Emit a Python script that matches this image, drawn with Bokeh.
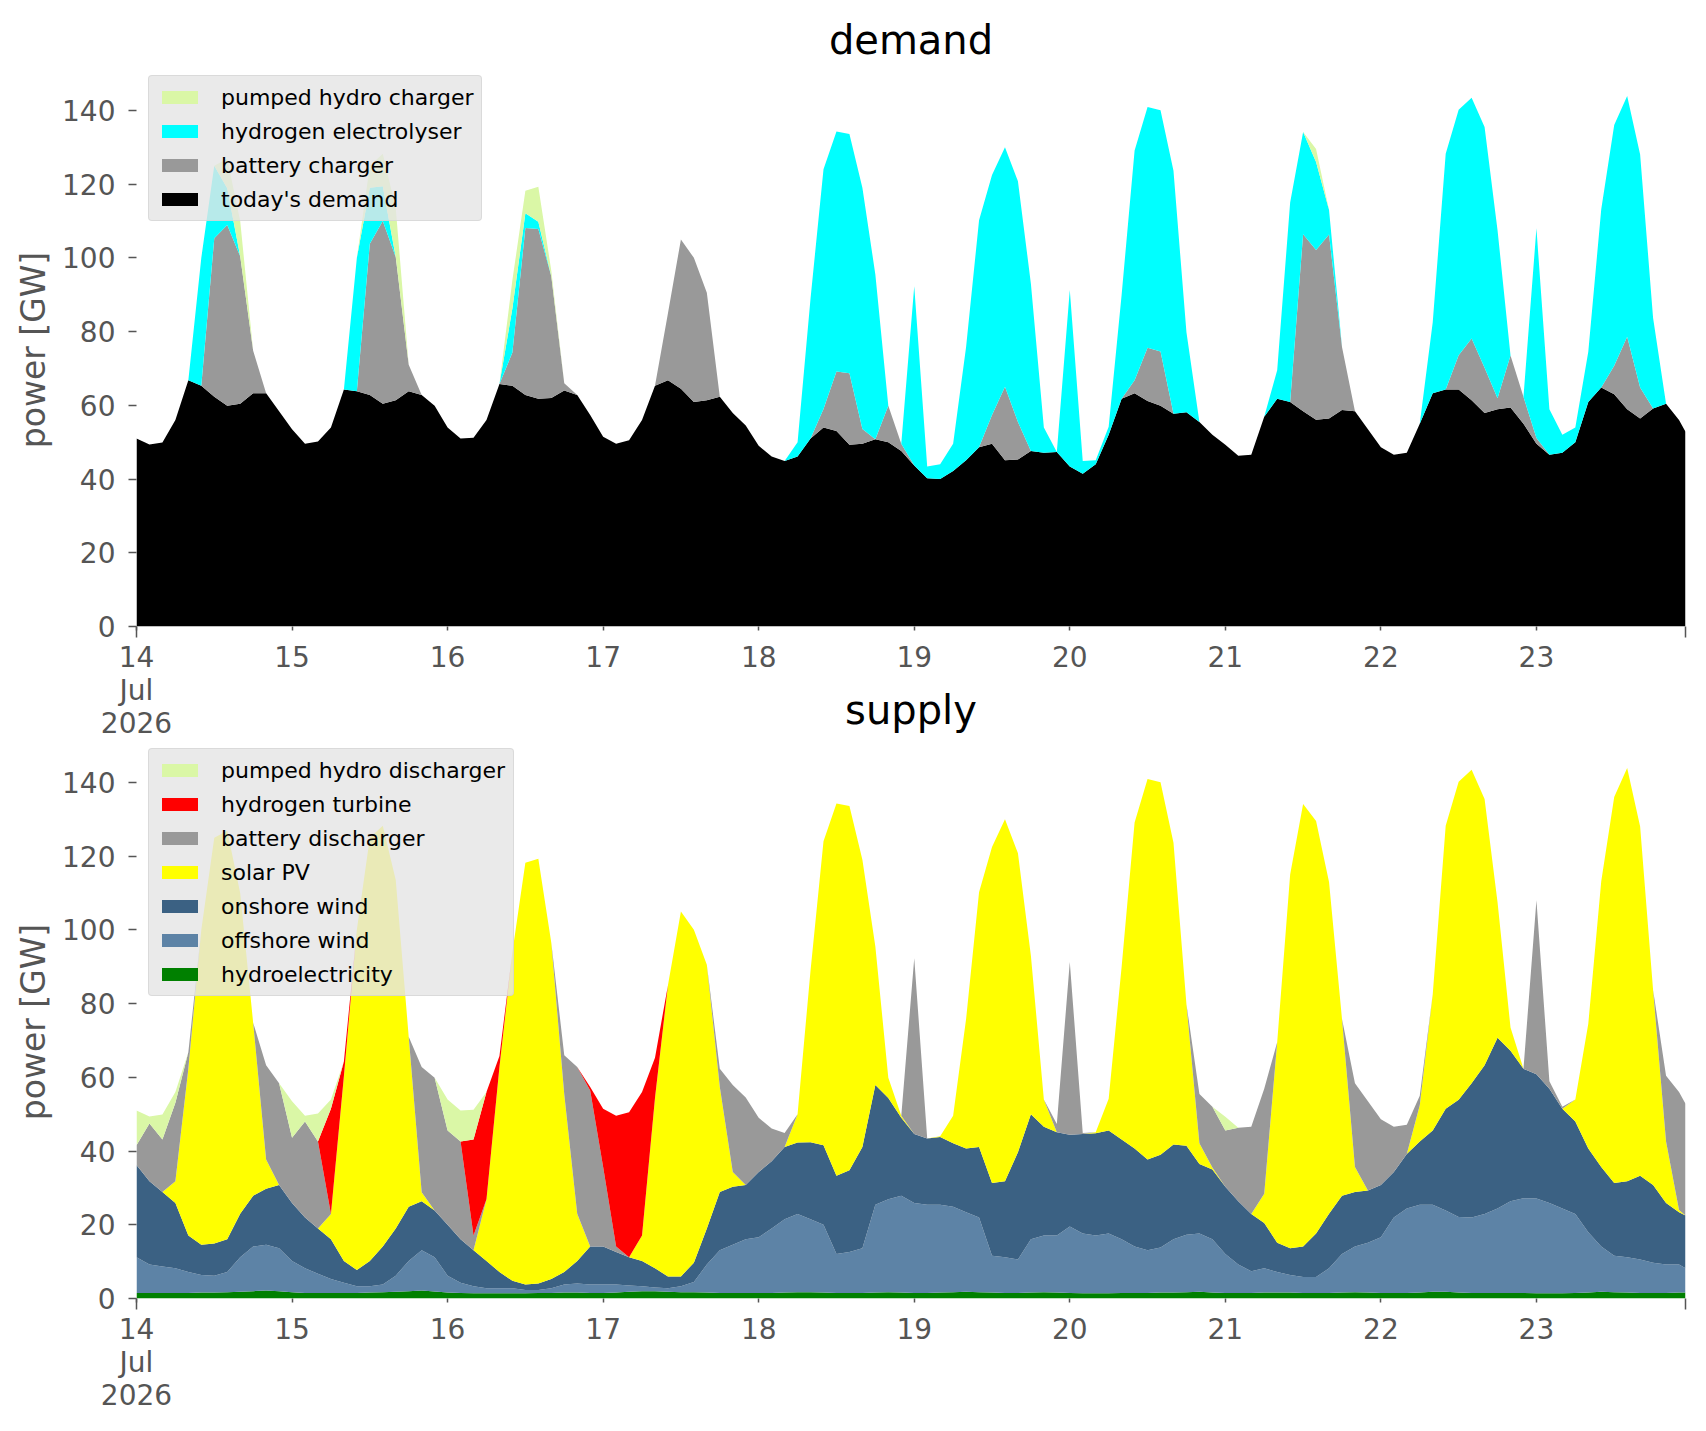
from bokeh.plotting import figure
from bokeh.models import ColumnDataSource, Range1d, FixedTicker, Legend, LegendItem
from bokeh.layouts import column
from bokeh.embed import file_html
from bokeh.resources import INLINE

# time axis: hours since 14 Jul 2026 00:00 (2-hourly samples, last at 23 Jul 23:00)
hours = list(range(0, 240, 2)) + [239]
day_ticks = [0, 24, 48, 72, 96, 120, 144, 168, 192, 216]
day_labels = ["14\nJul\n2026", "15", "16", "17", "18", "19", "20", "21", "22", "23"]
edge_ticks = [0, 239]
y_ticks = [0, 20, 40, 60, 80, 100, 120, 140]

# ---------------- demand (GW) ----------------
todays_demand = [
    51.0, 49.4, 49.9, 56.0, 66.8, 65.3, 62.3, 59.9, 60.4, 63.3, 63.3, 58.4,
    53.5, 49.6, 50.2, 54.0, 64.3, 63.8, 62.8, 60.4, 61.4, 63.8, 62.8, 59.9,
    54.0, 51.0, 51.2, 56.0, 65.8, 65.3, 62.8, 61.8, 62.0, 64.0, 62.8, 57.4,
    51.5, 49.6, 50.5, 56.0, 65.3, 66.8, 64.5, 60.9, 61.4, 62.3, 57.9, 54.5,
    49.0, 46.1, 44.9, 46.1, 51.0, 54.0, 53.0, 49.3, 49.6, 50.8, 50.0, 47.6,
    43.7, 40.2, 40.0, 42.2, 45.1, 48.6, 49.6, 45.1, 45.3, 47.6, 47.1, 47.3,
    43.4, 41.4, 44.0, 52.0, 61.8, 63.3, 61.2, 59.9, 57.7, 58.1, 55.5, 52.0,
    49.3, 46.3, 46.6, 56.9, 61.8, 60.9, 58.4, 56.1, 56.4, 58.7, 58.4, 53.5,
    48.6, 46.6, 47.1, 55.0, 63.3, 64.3, 64.3, 61.4, 57.9, 58.9, 59.4, 55.0,
    49.6, 46.6, 47.1, 50.0, 60.9, 64.8, 63.0, 58.9, 56.4, 59.1, 60.4, 56.0, 52.8]
battery_charger = [
    0, 0, 0, 0, 0, 0, 43.0, 49.0, 40.0, 11.5, 0, 0,
    0, 0, 0, 0, 0, 0, 41.0, 49.6, 38.8, 7.2, 0, 0,
    0, 0, 0, 0, 0, 9.0, 45.3, 46.0, 33.0, 2.0, 0, 0,
    0, 0, 0, 0, 0, 18.2, 40.5, 39.1, 29.1, 0, 0, 0,
    0, 0, 0, 0, 0, 5.0, 16.2, 19.4, 4.0, 0, 9.9, 2.0,
    0, 0, 0, 0, 0, 0, 7.8, 19.9, 10.2, 0, 0, 0,
    0, 0, 0, 0, 0, 3.5, 14.4, 14.7, 0, 0, 0, 0,
    0, 0, 0, 0, 0, 0, 48.0, 46.0, 49.9, 17.1, 0, 0,
    0, 0, 0, 0, 0, 0, 9.3, 16.7, 12.3, 3.0, 14.1, 7.3,
    1.5, 0, 0, 0, 0, 0, 7.7, 19.7, 8.4, 0, 0, 0, 0]
hydrogen_electrolyser = [
    0, 0, 0, 0, 0, 34.7, 19.7, 10.0, 0, 0, 0, 0,
    0, 0, 0, 0, 0, 36.2, 15.2, 9.4, 0, 0, 0, 0,
    0, 0, 0, 0, 0, 12.0, 4.0, 2.0, 0, 0, 0, 0,
    0, 0, 0, 0, 0, 0, 0, 0, 0, 0, 0, 0,
    0, 0, 0, 3.9, 38.0, 65.0, 65.1, 64.9, 65.4, 44.7, 0, 0,
    48.6, 3.2, 4.0, 7.4, 30.7, 61.6, 65.1, 65.0, 65.3, 45.4, 6.9, 0,
    47.9, 3.5, 1.1, 2.2, 28.2, 62.3, 65.3, 65.4, 65.9, 21.7, 0, 0,
    0, 0, 0, 0, 7.7, 54.1, 27.7, 23.9, 6.7, 0, 0, 0,
    0, 0, 0, 0, 19.2, 63.9, 66.6, 65.3, 65.3, 45.6, 0, 0,
    56.9, 12.3, 4.9, 4.0, 13.6, 48.4, 65.3, 65.3, 63.2, 24.6, 0, 0, 0]
pumped_hydro_charger = [
    0, 0, 0, 0, 0, 0, 0, 8.0, 9.6, 0, 0, 0,
    0, 0, 0, 0, 0, 0, 6.0, 8.8, 13.3, 0, 0, 0,
    0, 0, 0, 0, 0, 7.7, 6.1, 9.5, 1.5, 0, 0, 0,
    0, 0, 0, 0, 0, 0, 0, 0, 0, 0, 0, 0,
    0, 0, 0, 0, 0, 0, 0, 0, 0, 0, 0, 0,
    0, 0, 0, 0, 0, 0, 0, 0, 0, 0, 0, 0,
    0, 0, 0, 0, 0, 0, 0, 0, 0, 0, 0, 0,
    0, 0, 0, 0, 0, 0, 0, 3.5, 0, 0, 0, 0,
    0, 0, 0, 0, 0, 0, 0, 0, 0, 0, 0, 0,
    0, 0, 0, 0, 0, 0, 0, 0, 0, 0, 0, 0, 0]

# ---------------- supply (GW) ----------------
hydroelectricity = [
    1.5, 1.5, 1.5, 1.5, 1.5, 1.6, 1.6, 1.7, 1.8, 2.0, 2.2, 2.0,
    1.7, 1.5, 1.5, 1.5, 1.5, 1.5, 1.6, 1.7, 1.8, 2.0, 2.2, 1.9,
    1.6, 1.5, 1.4, 1.4, 1.4, 1.4, 1.4, 1.5, 1.5, 1.6, 1.6, 1.5,
    1.5, 1.6, 1.8, 2.0, 2.0, 1.8, 1.7, 1.7, 1.6, 1.5, 1.5, 1.5,
    1.5, 1.5, 1.6, 1.7, 1.7, 1.6, 1.5, 1.5, 1.5, 1.6, 1.7, 1.6,
    1.5, 1.5, 1.6, 1.7, 1.8, 1.7, 1.6, 1.5, 1.5, 1.6, 1.7, 1.6,
    1.5, 1.4, 1.4, 1.4, 1.5, 1.5, 1.5, 1.6, 1.6, 1.7, 1.8, 1.6,
    1.5, 1.5, 1.5, 1.6, 1.6, 1.6, 1.5, 1.5, 1.5, 1.6, 1.7, 1.6,
    1.5, 1.5, 1.5, 1.6, 1.8, 1.8, 1.6, 1.5, 1.5, 1.5, 1.5, 1.5,
    1.4, 1.4, 1.4, 1.5, 1.6, 1.8, 1.7, 1.6, 1.5, 1.5, 1.5, 1.6, 1.6]
offshore_wind = [
    9.7, 7.7, 7.2, 6.7, 5.7, 4.8, 4.6, 5.5, 9.4, 12.1, 12.4, 11.6,
    8.5, 6.7, 5.2, 3.8, 2.8, 1.8, 1.7, 2.1, 4.4, 8.2, 10.9, 9.3,
    4.6, 2.8, 1.9, 1.4, 1.4, 1.4, 0.9, 0.8, 1.3, 2.2, 2.5, 2.3,
    2.3, 2.2, 1.7, 1.3, 1.0, 1.0, 1.6, 2.8, 7.6, 11.6, 13.1, 14.6,
    15.1, 17.5, 19.9, 21.2, 19.8, 18.4, 10.6, 11.1, 12.1, 23.8, 25.2, 26.3,
    24.4, 23.9, 23.8, 23.2, 21.6, 20.3, 10.0, 9.7, 9.1, 14.5, 15.4, 15.5,
    18.0, 16.2, 15.7, 16.2, 14.6, 12.6, 11.6, 12.2, 14.5, 15.6, 15.8, 14.5,
    10.6, 7.7, 5.9, 6.6, 5.6, 4.8, 4.3, 4.3, 6.7, 10.5, 12.4, 13.5,
    15.1, 20.5, 22.9, 23.8, 23.6, 22.1, 20.5, 20.5, 21.4, 22.9, 24.9, 25.7,
    25.7, 24.5, 23.0, 21.4, 16.4, 12.3, 9.9, 9.6, 9.1, 8.2, 7.7, 7.6, 6.6]
onshore_wind = [
    25.0, 22.6, 20.2, 17.7, 9.9, 8.2, 8.7, 8.9, 11.8, 13.8, 15.2, 17.2,
    15.7, 13.8, 12.3, 10.8, 5.9, 4.4, 6.9, 10.3, 12.8, 14.7, 13.3, 12.7,
    13.8, 11.8, 9.8, 7.4, 4.4, 2.0, 1.5, 1.8, 2.5, 3.4, 6.1, 10.3,
    10.3, 8.8, 7.7, 6.9, 5.2, 3.2, 2.7, 5.2, 9.8, 15.8, 15.7, 14.7,
    17.7, 18.2, 19.6, 19.4, 20.9, 21.6, 21.2, 22.2, 27.5, 32.5, 27.5, 21.1,
    18.7, 18.0, 18.4, 17.2, 17.3, 19.1, 19.7, 20.6, 29.1, 33.9, 29.5, 28.0,
    24.9, 27.0, 27.7, 28.0, 27.0, 26.6, 24.6, 25.2, 25.7, 24.1, 18.9, 18.9,
    18.2, 17.2, 15.5, 12.3, 7.9, 7.2, 8.3, 11.8, 14.8, 15.8, 14.8, 14.2,
    14.2, 12.3, 14.8, 17.2, 20.2, 27.6, 31.8, 36.4, 40.4, 46.3, 40.8, 35.1,
    33.7, 31.0, 27.1, 25.1, 22.7, 21.6, 19.7, 20.6, 22.7, 21.1, 16.7, 14.2, 14.3]
solar_pv = [
    0, 0, 0, 5.9, 45.2, 85.4, 110.1, 110.8, 87.0, 46.9, 7.9, 0,
    0, 0, 0, 6.8, 50.1, 92.3, 114.8, 114.1, 94.5, 46.1, 2.4, 0,
    0, 0, 0, 16.7, 55.6, 89.2, 114.4, 115.2, 91.2, 48.2, 12.8, 0,
    0, 0, 0, 6.9, 46.2, 79.0, 99.0, 90.3, 71.5, 28.5, 4.0, 0,
    0, 0, 0, 7.7, 46.6, 82.4, 101.0, 98.8, 77.9, 37.6, 5.5, 0.6,
    0, 0, 0.2, 7.5, 35.1, 69.1, 91.2, 98.2, 81.1, 43.0, 7.4, 0,
    0, 0, 0.3, 8.6, 46.9, 88.4, 103.2, 101.0, 81.8, 38.4, 5.6, 0.5,
    0, 0, 0, 7.9, 54.4, 101.4, 120.0, 111.9, 90.0, 47.9, 6.8, 0,
    0, 0, 0, 9.8, 36.9, 76.7, 86.3, 85.0, 72.2, 36.8, 6.3, 0,
    0, 0, 0, 6.0, 33.8, 77.5, 104.7, 112.1, 94.7, 52.9, 16.7, 0.6, 0]
battery_discharger = [
    5.4, 15.7, 14.2, 21.3, 4.5, 0, 0, 0, 0, 0, 25.6, 27.6,
    17.7, 26.0, 23.6, 0, 0, 0, 0, 0, 0, 0, 34.0, 36.0,
    25.6, 26.5, 4.0, 0, 0, 0, 0, 0, 0, 10.6, 39.8, 42.3,
    21.6, 1.5, 0, 0, 0, 0, 0, 0, 0, 4.9, 23.6, 23.7,
    14.7, 8.9, 3.8, 0, 0, 0, 0, 0, 0, 0, 0, 0,
    47.7, 0, 0, 0, 0, 0, 0, 0, 0, 0, 0, 2.2,
    46.9, 0.3, 0, 0, 0, 0, 0, 0, 0, 0, 13.4, 16.5,
    15.3, 19.9, 23.7, 28.5, 0, 0, 0, 0, 0, 0, 22.7, 24.2,
    17.8, 12.3, 7.9, 2.6, 0, 0, 0, 0, 0, 0, 0, 0,
    47.2, 2.0, 0.5, 0, 0, 0, 0, 0, 0, 0, 17.8, 32.0, 30.3]
hydrogen_turbine = [
    0, 0, 0, 0, 0, 0, 0, 0, 0, 0, 0, 0,
    0, 0, 0, 28.6, 4.0, 0, 0, 0, 0, 0, 0, 0,
    0, 0, 26.0, 29.1, 3.0, 0, 0, 0, 0, 0, 0, 1.0,
    15.8, 35.5, 39.3, 38.9, 10.9, 0, 0, 0, 0, 0, 0, 0,
    0, 0, 0, 0, 0, 0, 0, 0, 0, 0, 0, 0,
    0, 0, 0, 0, 0, 0, 0, 0, 0, 0, 0, 0,
    0, 0, 0, 0, 0, 0, 0, 0, 0, 0, 0, 0,
    0, 0, 0, 0, 0, 0, 0, 0, 0, 0, 0, 0,
    0, 0, 0, 0, 0, 0, 0, 0, 0, 0, 0, 0,
    0, 0, 0, 0, 0, 0, 0, 0, 0, 0, 0, 0, 0]
pumped_hydro_discharger = [
    9.4, 1.9, 6.8, 2.9, 0, 0, 0, 0, 0, 0, 0, 0,
    9.9, 1.6, 7.6, 2.5, 0, 0, 0, 0, 0, 0, 0, 0,
    8.4, 8.4, 8.1, 0, 0, 0, 0, 0, 0, 0, 0, 0,
    0, 0, 0, 0, 0, 0, 0, 0, 0, 0, 0, 0,
    0, 0, 0, 0, 0, 0, 0, 0, 0, 0, 0, 0,
    0, 0, 0, 0, 0, 0, 0, 0, 0, 0, 0, 0,
    0, 0, 0, 0, 0, 0, 0, 0, 0, 0, 0, 0,
    3.7, 0, 0, 0, 0, 0, 0, 0, 0, 0, 0, 0,
    0, 0, 0, 0, 0, 0, 0, 0, 0, 0, 0, 0,
    0, 0, 0, 0, 0, 0, 0, 0, 0, 0, 0, 0, 0]

FONT = "DejaVu Sans"
GREY_TXT = "#555555"

demand_series = [
    ("todays_demand", "today's demand", "#000000", todays_demand),
    ("battery_charger", "battery charger", "#999999", battery_charger),
    ("hydrogen_electrolyser", "hydrogen electrolyser", "#00ffff", hydrogen_electrolyser),
    ("pumped_hydro_charger", "pumped hydro charger", "#daf7a6", pumped_hydro_charger),
]
supply_series = [
    ("hydroelectricity", "hydroelectricity", "#008000", hydroelectricity),
    ("offshore_wind", "offshore wind", "#5d83a6", offshore_wind),
    ("onshore_wind", "onshore wind", "#3b6183", onshore_wind),
    ("solar_pv", "solar PV", "#ffff00", solar_pv),
    ("battery_discharger", "battery discharger", "#999999", battery_discharger),
    ("hydrogen_turbine", "hydrogen turbine", "#ff0000", hydrogen_turbine),
    ("pumped_hydro_discharger", "pumped hydro discharger", "#daf7a6", pumped_hydro_discharger),
]


def make_panel(series, height, top, bottom, legend_y):
    p = figure(width=1698, height=height, x_range=Range1d(0, 239), y_range=Range1d(0, 150),
               output_backend="svg", toolbar_location=None,
               min_border_left=136, min_border_right=13,
               min_border_top=top, min_border_bottom=bottom,
               background_fill_color="white", border_fill_color="white",
               outline_line_color=None)
    p.grid.visible = False

    data = {"hours": hours}
    for key, _, _, vals in series:
        data[key] = vals
    src = ColumnDataSource(data)
    renderers = p.varea_stack(stackers=[s[0] for s in series], x="hours",
                              color=[s[2] for s in series], source=src)

    p.xaxis.ticker = FixedTicker(ticks=day_ticks, minor_ticks=edge_ticks)
    p.xaxis.major_label_overrides = {t: l for t, l in zip(day_ticks, day_labels)}
    p.xaxis.major_label_text_line_height = 1.0
    p.yaxis.ticker = FixedTicker(ticks=y_ticks)
    p.yaxis.axis_label = "power [GW]"
    for ax in (p.xaxis[0], p.yaxis[0]):
        ax.axis_line_color = None
        ax.major_tick_line_color = GREY_TXT
        ax.major_tick_line_width = 1.5
        ax.major_tick_in = 0
        ax.major_label_text_font = FONT
        ax.major_label_text_font_size = "28px"
        ax.major_label_text_color = GREY_TXT
    p.yaxis.minor_tick_line_color = None
    p.xaxis.minor_tick_line_color = GREY_TXT
    p.xaxis.minor_tick_line_width = 1.5
    p.xaxis.minor_tick_in = 0
    p.xaxis.minor_tick_out = 11
    p.xaxis.major_tick_out = 4
    p.xaxis.major_label_standoff = 3
    p.yaxis.major_tick_out = 8
    p.yaxis.major_label_standoff = 13
    p.yaxis.axis_label_text_font = FONT
    p.yaxis.axis_label_text_font_size = "33px"
    p.yaxis.axis_label_text_font_style = "normal"
    p.yaxis.axis_label_text_color = GREY_TXT
    p.yaxis.axis_label_standoff = 6

    items = [LegendItem(label=s[1], renderers=[r]) for s, r in zip(series, renderers)]
    items.reverse()
    legend = Legend(items=items, location=(12, legend_y),
                    label_text_font=FONT, label_text_font_size="22px",
                    label_text_color="#000000",
                    glyph_width=45, glyph_height=16, label_height=26,
                    label_standoff=19, spacing=8, padding=8, margin=0,
                    background_fill_color="#e5e5e5", background_fill_alpha=0.8,
                    border_line_color="#cccccc", border_line_width=1)
    if "border_radius" in Legend.properties():
        legend.border_radius = 4
    p.add_layout(legend)
    return p


# upper panel: title "demand"; the lower panel's heading "supply" sits in the gap below it
p_demand = make_panel(demand_series, 745, 73, 119, 405)
p_demand.title.text = "demand"
p_demand.title.align = "center"
p_demand.title.text_font = FONT
p_demand.title.text_font_size = "40px"
p_demand.title.text_font_style = "normal"
p_demand.title.text_color = "#000000"
p_demand.title.standoff = 21
p_demand.xaxis.axis_label = "supply"
p_demand.xaxis.axis_label_text_font = FONT
p_demand.xaxis.axis_label_text_font_size = "40px"
p_demand.xaxis.axis_label_text_font_style = "normal"
p_demand.xaxis.axis_label_text_color = "#000000"
p_demand.xaxis.axis_label_standoff = -56

p_supply = make_panel(supply_series, 684, 0, 131, 302)
p_supply.title.visible = False

layout = column(p_demand, p_supply, spacing=0)
open("out.html", "w").write(file_html(layout, INLINE))
